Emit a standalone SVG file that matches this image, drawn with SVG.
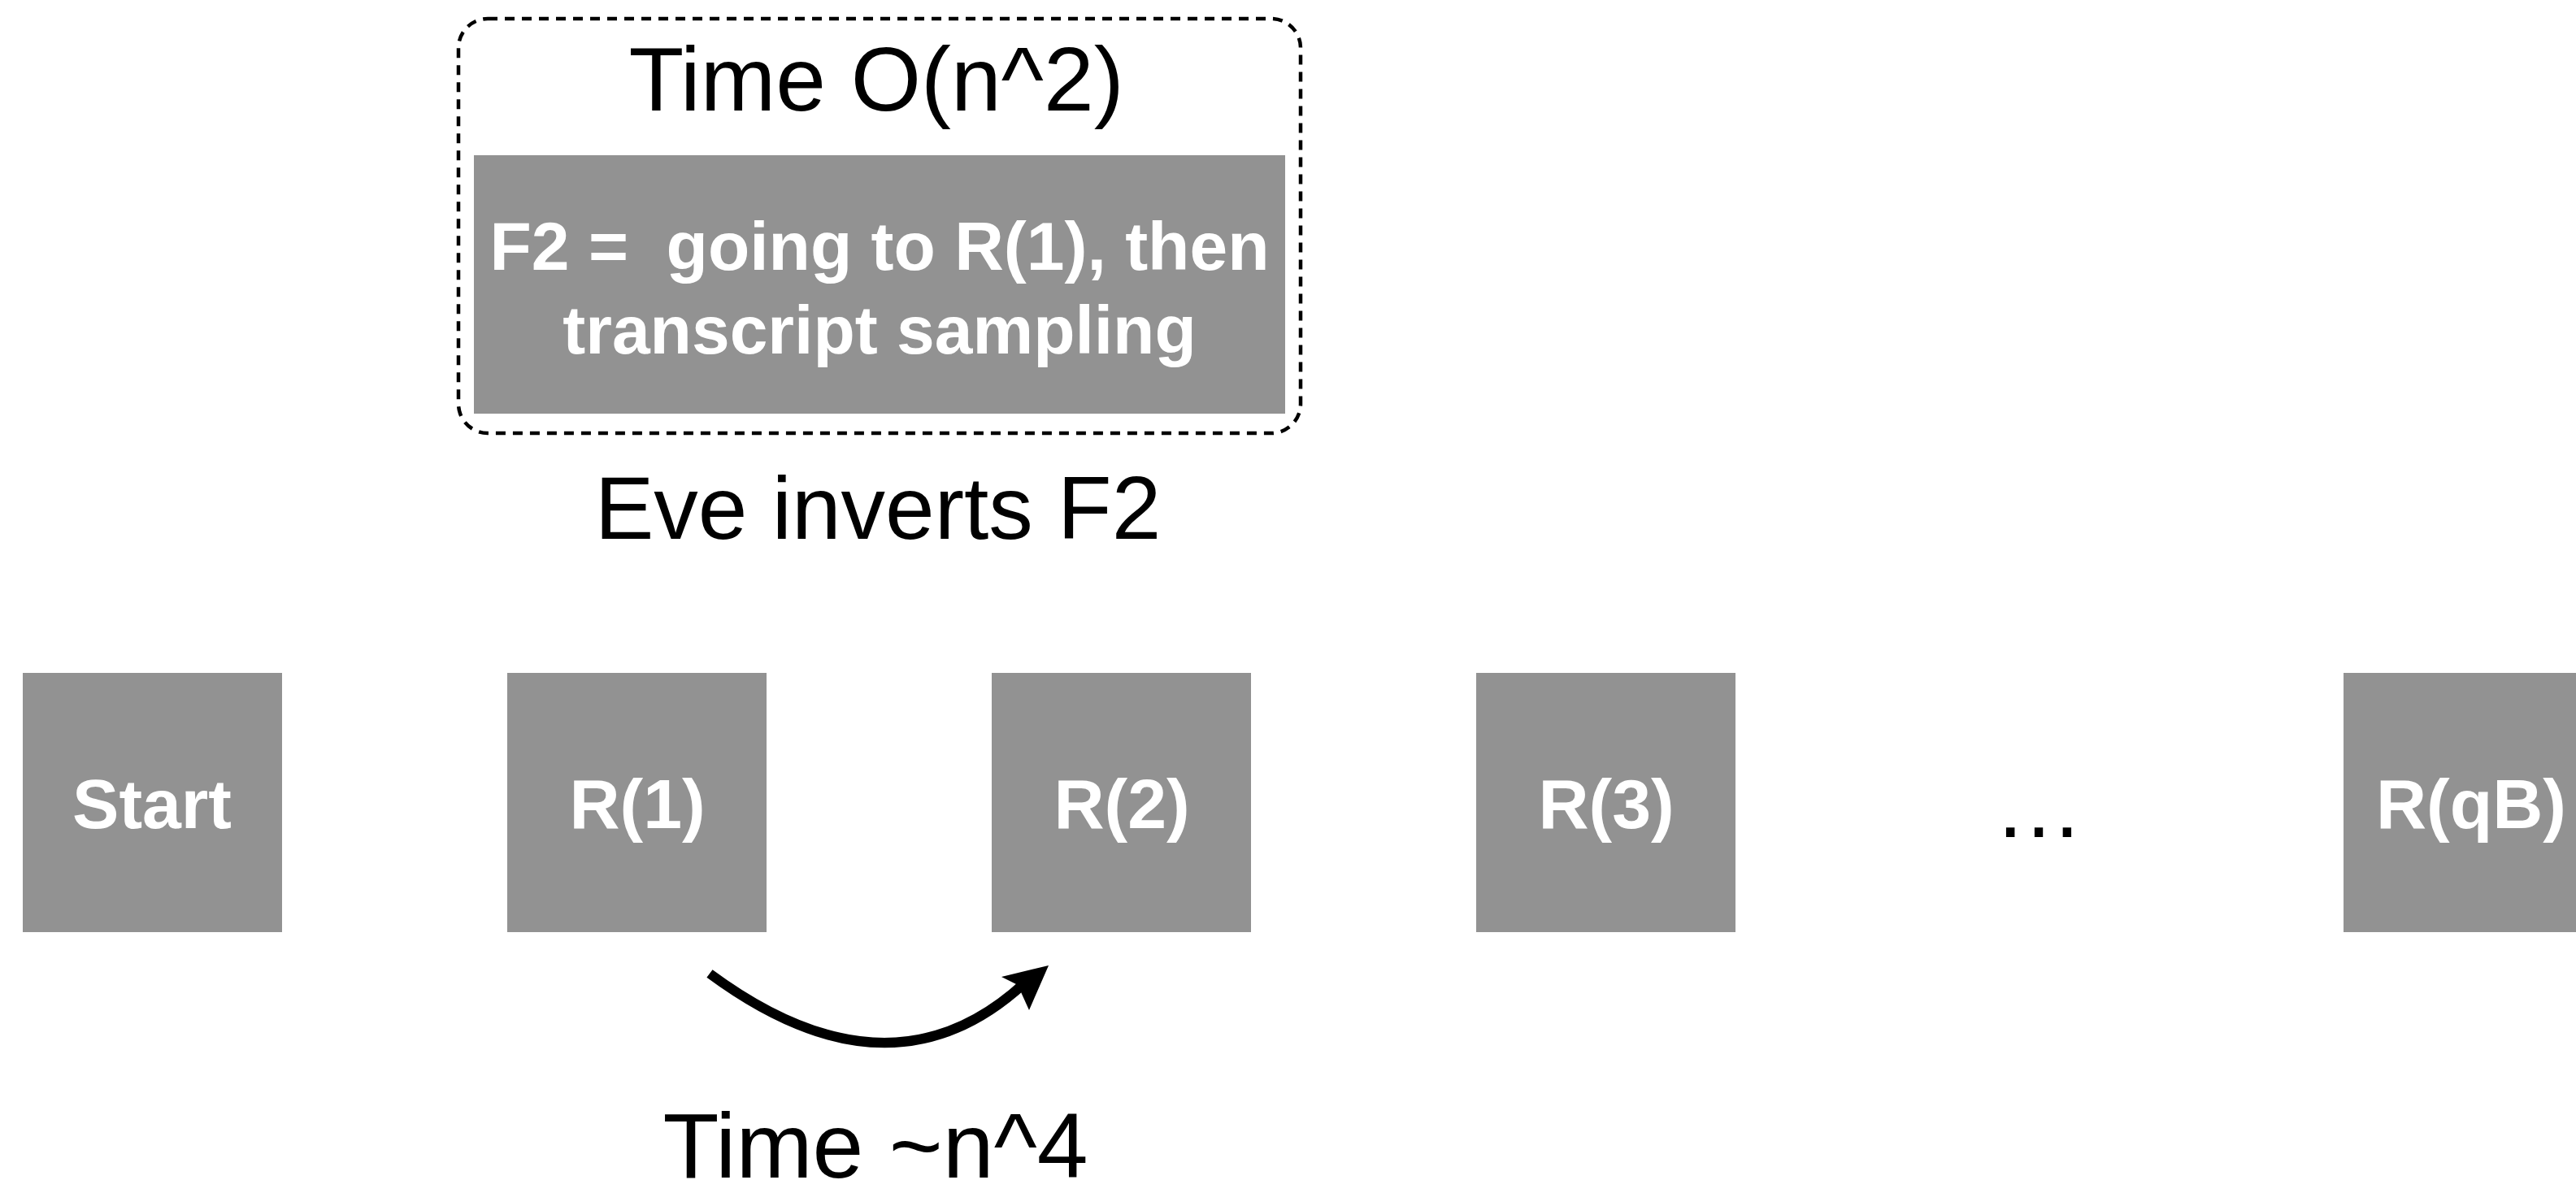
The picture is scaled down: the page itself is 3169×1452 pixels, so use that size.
<svg xmlns="http://www.w3.org/2000/svg" width="3169" height="1452" viewBox="0 0 3169 1452">
  <style>
    .box { fill: #929292; }
    .lbl { font-family: "Liberation Sans", Arial, sans-serif; font-weight: bold; fill: #ffffff; text-anchor: middle; }
    .cap { font-family: "Liberation Sans", Arial, sans-serif; fill: #000000; text-anchor: middle; }
    .frame { fill: none; stroke: #000000; stroke-width: 4.5; stroke-dasharray: 12 9; }
    .edge { fill: none; stroke: #000000; stroke-width: 12; }
  </style>
  <rect width="3169" height="1452" fill="#ffffff"/>

  <!-- F2 step: dashed frame with its cost and caption -->
  <g id="f2-group">
    <rect class="frame" x="564" y="23" width="1036" height="510" rx="36" ry="36"/>
    <text class="cap" x="1078" y="136" font-size="111">Time O(n^2)</text>
    <rect class="box" x="583" y="191" width="998" height="318"/>
    <text class="lbl" x="1082" y="332" font-size="84" xml:space="preserve">F2 =  going to R(1), then</text>
    <text class="lbl" x="1082" y="435" font-size="84">transcript sampling</text>
  </g>
  <g id="f2-caption">
    <text class="cap" x="1080" y="663" font-size="109">Eve inverts F2</text>
  </g>

  <!-- Chain of rounds -->
  <g id="start">
    <rect class="box" x="28" y="828" width="319" height="319"/>
    <text class="lbl" x="187" y="1019" font-size="86">Start</text>
  </g>
  <g id="r1">
    <rect class="box" x="624" y="828" width="319" height="319"/>
    <text class="lbl" x="784" y="1019" font-size="86">R(1)</text>
  </g>
  <g id="r2">
    <rect class="box" x="1220" y="828" width="319" height="319"/>
    <text class="lbl" x="1380" y="1019" font-size="86">R(2)</text>
  </g>
  <g id="r3">
    <rect class="box" x="1816" y="828" width="319" height="319"/>
    <text class="lbl" x="1976" y="1019" font-size="86">R(3)</text>
  </g>
  <g id="ellipsis">
    <text class="cap" x="2508" y="1030" font-size="110">…</text>
  </g>
  <g id="rqb">
    <rect class="box" x="2883" y="828" width="319" height="319"/>
    <text class="lbl" x="3040" y="1019" font-size="86">R(qB)</text>
  </g>

  <!-- Connectors -->
  <g id="connectors">
    <path class="edge" d="M873,1198 Q1095,1362 1260,1210"/>
    <polygon points="1290,1188 1232,1202 1252,1212 1266,1243" fill="#000000"/>
    <text class="cap" x="1077" y="1449" font-size="113">Time ~n^4</text>
  </g>
</svg>
